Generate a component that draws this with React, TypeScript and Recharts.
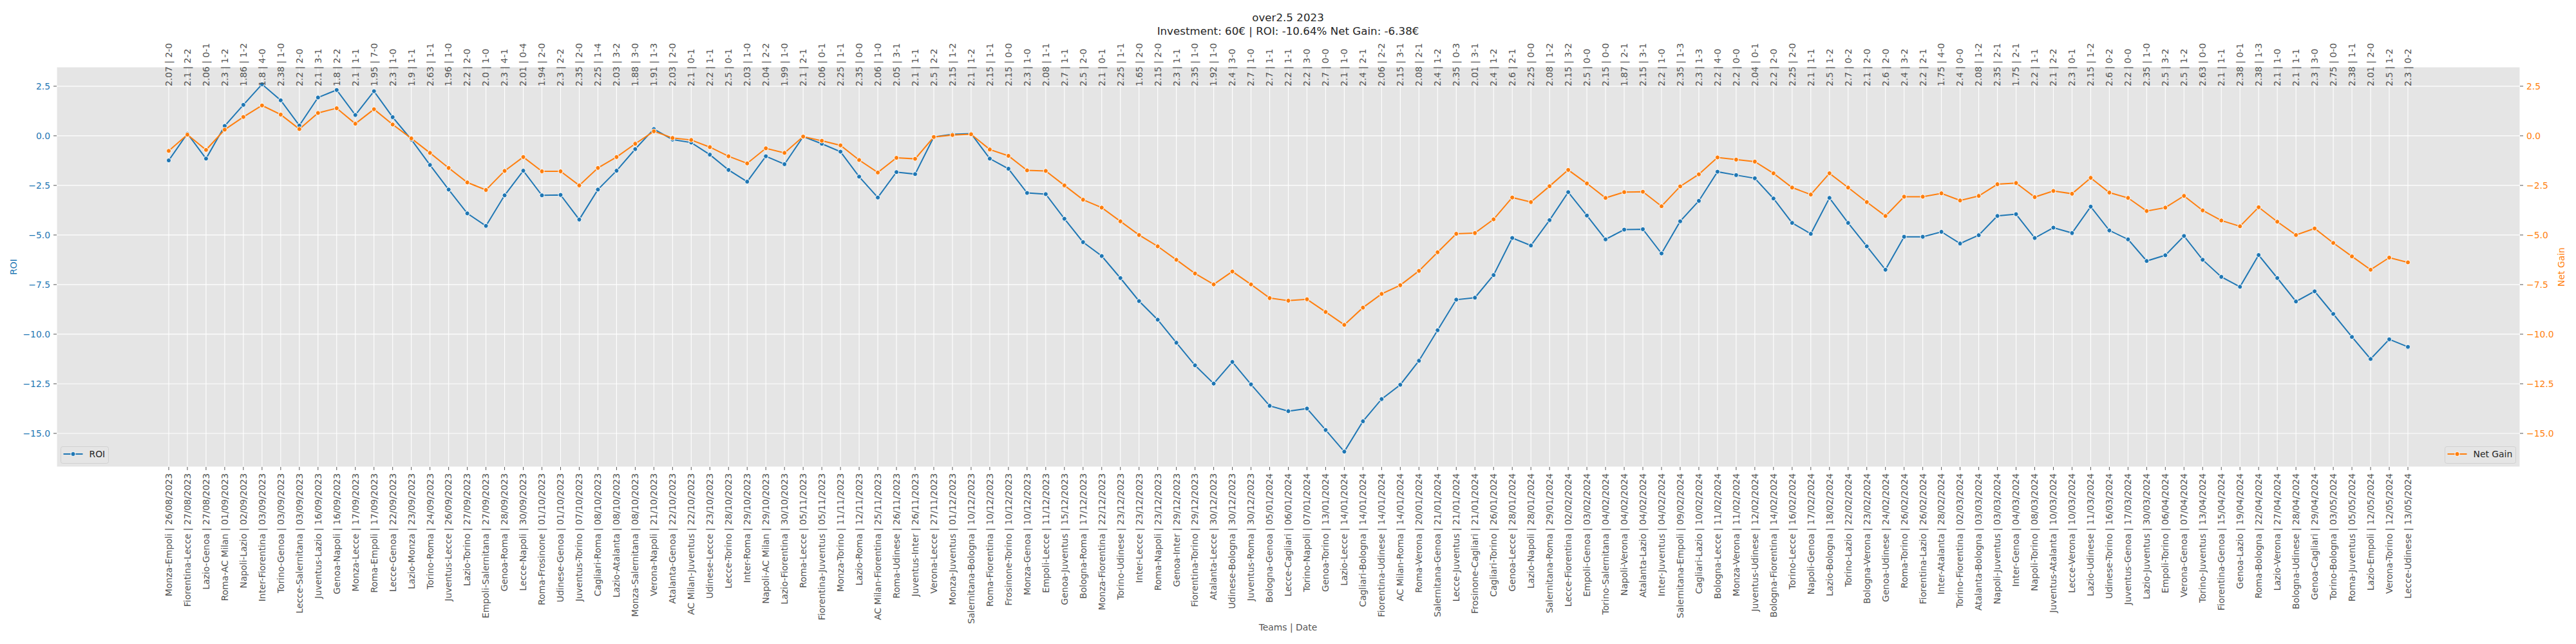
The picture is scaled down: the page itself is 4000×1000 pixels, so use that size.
import React from 'react';
import { LineChart, Line, XAxis, YAxis, CartesianGrid } from 'recharts';

const teams = [
  'Monza-Empoli', 'Fiorentina-Lecce', 'Lazio-Genoa', 'Roma-AC Milan', 'Napoli-Lazio', 'Inter-Fiorentina', 'Torino-Genoa', 'Lecce-Salernitana', 'Juventus-Lazio', 'Genoa-Napoli',
  'Monza-Lecce', 'Roma-Empoli', 'Lecce-Genoa', 'Lazio-Monza', 'Torino-Roma', 'Juventus-Lecce', 'Lazio-Torino', 'Empoli-Salernitana', 'Genoa-Roma', 'Lecce-Napoli',
  'Roma-Frosinone', 'Udinese-Genoa', 'Juventus-Torino', 'Cagliari-Roma', 'Lazio-Atalanta', 'Monza-Salernitana', 'Verona-Napoli', 'Atalanta-Genoa', 'AC Milan-Juventus', 'Udinese-Lecce',
  'Lecce-Torino', 'Inter-Roma', 'Napoli-AC Milan', 'Lazio-Fiorentina', 'Roma-Lecce', 'Fiorentina-Juventus', 'Monza-Torino', 'Lazio-Roma', 'AC Milan-Fiorentina', 'Roma-Udinese',
  'Juventus-Inter', 'Verona-Lecce', 'Monza-Juventus', 'Salernitana-Bologna', 'Roma-Fiorentina', 'Frosinone-Torino', 'Monza-Genoa', 'Empoli-Lecce', 'Genoa-Juventus', 'Bologna-Roma',
  'Monza-Fiorentina', 'Torino-Udinese', 'Inter-Lecce', 'Roma-Napoli', 'Genoa-Inter', 'Fiorentina-Torino', 'Atalanta-Lecce', 'Udinese-Bologna', 'Juventus-Roma', 'Bologna-Genoa',
  'Lecce-Cagliari', 'Torino-Napoli', 'Genoa-Torino', 'Lazio-Lecce', 'Cagliari-Bologna', 'Fiorentina-Udinese', 'AC Milan-Roma', 'Roma-Verona', 'Salernitana-Genoa', 'Lecce-Juventus',
  'Frosinone-Cagliari', 'Cagliari-Torino', 'Genoa-Lecce', 'Lazio-Napoli', 'Salernitana-Roma', 'Lecce-Fiorentina', 'Empoli-Genoa', 'Torino-Salernitana', 'Napoli-Verona', 'Atalanta-Lazio',
  'Inter-Juventus', 'Salernitana-Empoli', 'Cagliari-Lazio', 'Bologna-Lecce', 'Monza-Verona', 'Juventus-Udinese', 'Bologna-Fiorentina', 'Torino-Lecce', 'Napoli-Genoa', 'Lazio-Bologna',
  'Torino-Lazio', 'Bologna-Verona', 'Genoa-Udinese', 'Roma-Torino', 'Fiorentina-Lazio', 'Inter-Atalanta', 'Torino-Fiorentina', 'Atalanta-Bologna', 'Napoli-Juventus', 'Inter-Genoa',
  'Napoli-Torino', 'Juventus-Atalanta', 'Lecce-Verona', 'Lazio-Udinese', 'Udinese-Torino', 'Juventus-Genoa', 'Lazio-Juventus', 'Empoli-Torino', 'Verona-Genoa', 'Torino-Juventus',
  'Fiorentina-Genoa', 'Genoa-Lazio', 'Roma-Bologna', 'Lazio-Verona', 'Bologna-Udinese', 'Genoa-Cagliari', 'Torino-Bologna', 'Roma-Juventus', 'Lazio-Empoli', 'Verona-Torino', 'Lecce-Udinese',
];

const dates = [
  '26/08/2023', '27/08/2023', '27/08/2023', '01/09/2023', '02/09/2023', '03/09/2023', '03/09/2023', '03/09/2023', '16/09/2023', '16/09/2023',
  '17/09/2023', '17/09/2023', '22/09/2023', '23/09/2023', '24/09/2023', '26/09/2023', '27/09/2023', '27/09/2023', '28/09/2023', '30/09/2023',
  '01/10/2023', '01/10/2023', '07/10/2023', '08/10/2023', '08/10/2023', '08/10/2023', '21/10/2023', '22/10/2023', '22/10/2023', '23/10/2023',
  '28/10/2023', '29/10/2023', '29/10/2023', '30/10/2023', '05/11/2023', '05/11/2023', '11/11/2023', '12/11/2023', '25/11/2023', '26/11/2023',
  '26/11/2023', '27/11/2023', '01/12/2023', '10/12/2023', '10/12/2023', '10/12/2023', '10/12/2023', '11/12/2023', '15/12/2023', '17/12/2023',
  '22/12/2023', '23/12/2023', '23/12/2023', '23/12/2023', '29/12/2023', '29/12/2023', '30/12/2023', '30/12/2023', '30/12/2023', '05/01/2024',
  '06/01/2024', '07/01/2024', '13/01/2024', '14/01/2024', '14/01/2024', '14/01/2024', '14/01/2024', '20/01/2024', '21/01/2024', '21/01/2024',
  '21/01/2024', '26/01/2024', '28/01/2024', '28/01/2024', '29/01/2024', '02/02/2024', '03/02/2024', '04/02/2024', '04/02/2024', '04/02/2024',
  '04/02/2024', '09/02/2024', '10/02/2024', '11/02/2024', '11/02/2024', '12/02/2024', '14/02/2024', '16/02/2024', '17/02/2024', '18/02/2024',
  '22/02/2024', '23/02/2024', '24/02/2024', '26/02/2024', '26/02/2024', '28/02/2024', '02/03/2024', '03/03/2024', '03/03/2024', '04/03/2024',
  '08/03/2024', '10/03/2024', '10/03/2024', '11/03/2024', '16/03/2024', '17/03/2024', '30/03/2024', '06/04/2024', '07/04/2024', '13/04/2024',
  '15/04/2024', '19/04/2024', '22/04/2024', '27/04/2024', '28/04/2024', '29/04/2024', '03/05/2024', '05/05/2024', '12/05/2024', '12/05/2024', '13/05/2024',
];

const odds = [
  '2.07', '2.1', '2.06', '2.3', '1.86', '1.8', '2.38', '2.2', '2.1', '1.8',
  '2.1', '1.95', '2.3', '1.9', '2.63', '1.96', '2.2', '2.0', '2.3', '2.01',
  '1.94', '2.3', '2.35', '2.25', '2.03', '1.88', '1.91', '2.03', '2.1', '2.2',
  '2.5', '2.03', '2.04', '1.99', '2.1', '2.06', '2.25', '2.35', '2.06', '2.05',
  '2.1', '2.5', '2.15', '2.1', '2.15', '2.15', '2.3', '2.08', '2.7', '2.5',
  '2.1', '2.25', '1.65', '2.15', '2.3', '2.35', '1.92', '2.4', '2.7', '2.7',
  '2.2', '2.2', '2.7', '2.1', '2.4', '2.06', '2.15', '2.08', '2.4', '2.35',
  '2.01', '2.4', '2.6', '2.25', '2.08', '2.15', '2.5', '2.15', '1.87', '2.15',
  '2.2', '2.35', '2.3', '2.2', '2.2', '2.04', '2.2', '2.25', '2.1', '2.5',
  '2.7', '2.1', '2.6', '2.4', '2.2', '1.75', '2.4', '2.08', '2.35', '1.75',
  '2.2', '2.1', '2.3', '2.15', '2.6', '2.2', '2.35', '2.5', '2.5', '2.63',
  '2.1', '2.38', '2.38', '2.1', '2.1', '2.3', '2.75', '2.38', '2.01', '2.5', '2.3',
];

const scores = [
  '2-0', '2-2', '0-1', '1-2', '1-2', '4-0', '1-0', '2-0', '3-1', '2-2',
  '1-1', '7-0', '1-0', '1-1', '1-1', '1-0', '2-0', '1-0', '4-1', '0-4',
  '2-0', '2-2', '2-0', '1-4', '3-2', '3-0', '1-3', '2-0', '0-1', '1-1',
  '0-1', '1-0', '2-2', '1-0', '2-1', '0-1', '1-1', '0-0', '1-0', '3-1',
  '1-1', '2-2', '1-2', '1-2', '1-1', '0-0', '1-0', '1-1', '1-1', '2-0',
  '0-1', '1-1', '2-0', '2-0', '1-1', '1-0', '1-0', '3-0', '1-0', '1-1',
  '1-1', '3-0', '0-0', '1-0', '2-1', '2-2', '3-1', '2-1', '1-2', '0-3',
  '3-1', '1-2', '2-1', '0-0', '1-2', '3-2', '0-0', '0-0', '2-1', '3-1',
  '1-0', '1-3', '1-3', '4-0', '0-0', '0-1', '2-0', '2-0', '1-1', '1-2',
  '0-2', '2-0', '2-0', '3-2', '2-1', '4-0', '0-0', '1-2', '2-1', '2-1',
  '1-1', '2-2', '0-1', '1-2', '0-2', '0-0', '1-0', '3-2', '1-2', '0-0',
  '1-1', '0-1', '1-3', '1-0', '1-1', '3-0', '0-0', '1-1', '2-0', '1-2', '0-2',
];

const roi = [
  -1.24, 0.11, -1.15, 0.5, 1.56, 2.6, 1.79, 0.52, 1.93, 2.31,
  1.05, 2.25, 0.94, -0.19, -1.47, -2.71, -3.91, -4.54, -3.0, -1.76,
  -3.0, -2.98, -4.22, -2.71, -1.76, -0.67, 0.34, -0.19, -0.34, -0.95,
  -1.72, -2.31, -1.03, -1.43, -0.04, -0.4, -0.8, -2.06, -3.11, -1.83,
  -1.93, -0.06, 0.08, 0.11, -1.15, -1.66, -2.88, -2.94, -4.18, -5.36,
  -6.06, -7.17, -8.33, -9.27, -10.43, -11.57, -12.49, -11.4, -12.53, -13.61,
  -13.88, -13.75, -14.83, -15.92, -14.39, -13.27, -12.55, -11.34, -9.8, -8.26,
  -8.16, -7.02, -5.15, -5.53, -4.25, -2.84, -4.02, -5.22, -4.73, -4.71,
  -5.93, -4.31, -3.28, -1.81, -1.98, -2.14, -3.16, -4.39, -4.94, -3.13,
  -4.39, -5.57, -6.75, -5.09, -5.09, -4.84, -5.43, -5.01, -4.04, -3.95,
  -5.15, -4.63, -4.9, -3.57, -4.77, -5.22, -6.31, -6.02, -5.05, -6.25,
  -7.11, -7.61, -6.01, -7.17, -8.35, -7.84, -8.98, -10.14, -11.25, -10.26, -10.64,
];

const netGain = [
  -0.76, 0.06, -0.71, 0.31, 0.95, 1.53, 1.07, 0.34, 1.15, 1.39,
  0.61, 1.34, 0.57, -0.13, -0.86, -1.62, -2.35, -2.73, -1.77, -1.07,
  -1.79, -1.79, -2.5, -1.62, -1.07, -0.4, 0.23, -0.11, -0.21, -0.57,
  -1.03, -1.39, -0.63, -0.86, -0.04, -0.25, -0.48, -1.22, -1.85, -1.11,
  -1.16, -0.06, 0.04, 0.08, -0.69, -1.01, -1.74, -1.77, -2.5, -3.22,
  -3.62, -4.31, -5.0, -5.57, -6.25, -6.94, -7.49, -6.84, -7.49, -8.18,
  -8.31, -8.24, -8.88, -9.53, -8.66, -7.97, -7.53, -6.81, -5.87, -4.94,
  -4.9, -4.21, -3.11, -3.34, -2.54, -1.72, -2.4, -3.13, -2.84, -2.82,
  -3.55, -2.55, -1.94, -1.09, -1.2, -1.3, -1.89, -2.61, -2.96, -1.89,
  -2.61, -3.34, -4.04, -3.07, -3.07, -2.9, -3.26, -3.03, -2.44, -2.38,
  -3.09, -2.78, -2.92, -2.12, -2.86, -3.13, -3.79, -3.62, -3.03, -3.76,
  -4.27, -4.56, -3.6, -4.33, -5.0, -4.67, -5.4, -6.08, -6.75, -6.14, -6.38,
];

const yTicks = [-15, -12.5, -10, -7.5, -5, -2.5, 0, 2.5];
const yDomain: [number, number] = [-16.69, 3.47];

const titleLine1 = 'over2.5 2023';
const titleLine2 = 'Investment: 60€ | ROI: -10.64% Net Gain: -6.38€';
const xAxisTitle = 'Teams | Date';

const data = teams.map((t, i) => ({
  match: `${t} | ${dates[i]}`,
  roi: roi[i],
  netGain: netGain[i],
}));

const FONT = 'DejaVu Sans';
const BLUE = '#1f77b4';
const ORANGE = '#ff7f0e';

const fmt = (v: number) => (v < 0 ? '\u2212' : '') + Math.abs(v).toFixed(1);

const MatchTick = (props: any) => {
  const { x, payload } = props;
  let i = typeof props.index === 'number' ? props.index : payload?.index;
  if (typeof i !== 'number') i = data.findIndex((d) => d.match === payload.value);
  const top = `${odds[i]} | ${scores[i]}`;
  return (
    <g>
      <text
        x={x}
        y={735}
        transform={`rotate(-90, ${x}, 735)`}
        textAnchor="end"
        dy="0.35em"
        fill="#555555"
        fontSize={13.9}
        fontFamily={FONT}
      >
        {payload.value}
      </text>
      <text
        x={x}
        y={134}
        transform={`rotate(-90, ${x}, 134)`}
        textAnchor="start"
        dy="0.35em"
        fill="#555555"
        fontSize={13.9}
        fontFamily={FONT}
      >
        {top}
      </text>
    </g>
  );
};

const LegendBox = ({ x, w, color, label }: { x: number; w: number; color: string; label: string }) => (
  <g>
    <rect x={x} y={693.5} width={w} height={26} rx={3} ry={3} fill="#E5E5E5" fillOpacity={0.8} stroke="#cccccc" strokeOpacity={0.8} strokeWidth={1} />
    <line x1={x + 4} y1={705} x2={x + 34} y2={705} stroke={color} strokeWidth={2} />
    <circle cx={x + 19} cy={705} r={3.6} fill={color} stroke="#ffffff" strokeWidth={1} />
    <text x={x + 44} y={705} dy="0.35em" fontSize={13.9} fontFamily={FONT} fill="#262626">
      {label}
    </text>
  </g>
);

export default function App() {
  return (
    <div style={{ position: 'absolute', left: 0, top: 0, width: 4000, height: 1000, background: '#ffffff' }}>
      <LineChart width={4000} height={1000} data={data} margin={{ top: 104, right: 0, bottom: 0, left: 0 }}>
        <CartesianGrid yAxisId="left" stroke="#ffffff" strokeWidth={1.1} fill="#E5E5E5" fillOpacity={1} />
        <XAxis
          dataKey="match"
          interval={0}
          height={275}
          axisLine={false}
          tickLine={{ stroke: '#555555' }}
          tickSize={5}
          padding={{ left: 174, right: 174 }}
          tick={<MatchTick />}
        />
        <YAxis
          yAxisId="left"
          type="number"
          width={88}
          domain={yDomain}
          ticks={yTicks}
          interval={0}
          axisLine={false}
          tickLine={{ stroke: '#555555' }}
          tickSize={5}
          tickMargin={5}
          tickFormatter={fmt}
          tick={{ fill: BLUE, fontSize: 13.9, fontFamily: FONT }}
        />
        <YAxis
          yAxisId="right"
          orientation="right"
          type="number"
          width={87}
          domain={yDomain}
          ticks={yTicks}
          interval={0}
          axisLine={false}
          tickLine={{ stroke: '#555555' }}
          tickSize={5}
          tickMargin={5}
          tickFormatter={fmt}
          tick={{ fill: ORANGE, fontSize: 13.9, fontFamily: FONT }}
        />
        <Line
          yAxisId="left"
          type="linear"
          dataKey="roi"
          stroke={BLUE}
          strokeWidth={2}
          dot={{ r: 3.6, fill: BLUE, stroke: '#ffffff', strokeWidth: 1 }}
          activeDot={false}
          isAnimationActive={false}
        />
        <Line
          yAxisId="right"
          type="linear"
          dataKey="netGain"
          stroke={ORANGE}
          strokeWidth={2}
          dot={{ r: 3.6, fill: ORANGE, stroke: '#ffffff', strokeWidth: 1 }}
          activeDot={false}
          isAnimationActive={false}
        />
      </LineChart>
      <svg
        width={4000}
        height={1000}
        style={{ position: 'absolute', left: 0, top: 0, pointerEvents: 'none' }}
      >
        <text x={2000} y={33} textAnchor="middle" fontSize={16.7} fontFamily={FONT} fill="#262626">
          {titleLine1}
        </text>
        <text x={2000} y={54} textAnchor="middle" fontSize={16.7} fontFamily={FONT} fill="#262626">
          {titleLine2}
        </text>
        <text x={21} y={414.5} transform="rotate(-90, 21, 414.5)" textAnchor="middle" dy="0.35em" fontSize={13.9} fontFamily={FONT} fill={BLUE}>
          ROI
        </text>
        <text x={3977} y={414.5} transform="rotate(-90, 3977, 414.5)" textAnchor="middle" dy="0.35em" fontSize={13.9} fontFamily={FONT} fill={ORANGE}>
          Net Gain
        </text>
        <text x={2000} y={974} textAnchor="middle" dy="0.35em" fontSize={13.9} fontFamily={FONT} fill="#555555">
          {xAxisTitle}
        </text>
        <LegendBox x={94.5} w={74} color={BLUE} label="ROI" />
        <LegendBox x={3796.5} w={110} color={ORANGE} label="Net Gain" />
      </svg>
    </div>
  );
}
